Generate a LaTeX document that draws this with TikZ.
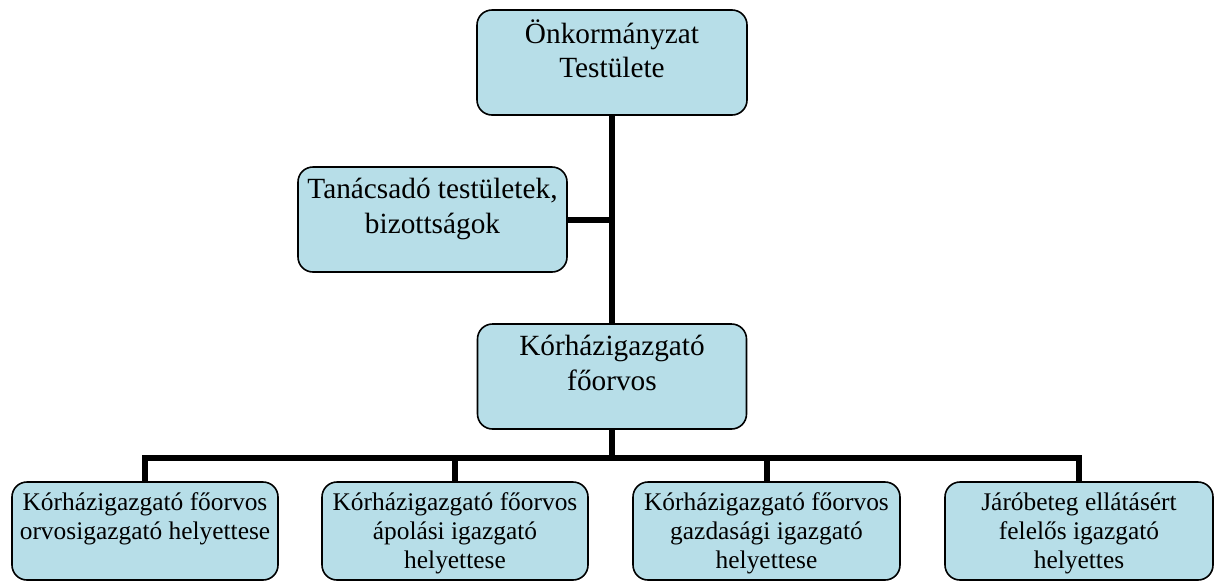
\documentclass[tikz,border=0pt]{standalone}
\usepackage{fontspec}
\setmainfont{Liberation Serif}
\usetikzlibrary{backgrounds}
\definecolor{boxfill}{RGB}{183,222,232}
% width, height, first baseline offset, font size, baselineskip, text
\newcommand\bxtext[6]{\parbox[c][#2][t]{#1}{\centering\fontsize{#4}{#5}\selectfont\rule{0pt}{#3}#6}}
\newcommand\bigbox[2]{\bxtext{#1}{105pt}{31pt}{29.3pt}{35pt}{#2}}
\newcommand\smallbox[2]{\bxtext{#1}{98pt}{28.5pt}{25.4pt}{29pt}{#2}}
\begin{document}
\begin{tikzpicture}[x=1pt,y=-1pt,
  orgbox/.style={draw=black, line width=1.6pt, fill=boxfill, rounded corners=15pt, inner sep=0pt},
  conn/.style={draw=black, line width=6pt, line join=miter}]
\useasboundingbox (0,0) rectangle (1217,582);
\node[orgbox] (top) at (612,62.5) {\bxtext{270pt}{105pt}{33pt}{29.3pt}{34pt}{Önkormányzat\\Testülete}};
\node[orgbox] (tan) at (432.5,219.5) {\bigbox{269pt}{Tanácsadó testületek,\\bizottságok}};
\node[orgbox] (korh) at (612,376.5) {\bigbox{269pt}{Kórházigazgató\\főorvos}};
\node[orgbox] (b1) at (145,531) {\smallbox{266pt}{Kórházigazgató főorvos\\orvosigazgató helyettese}};
\node[orgbox] (b2) at (455,531) {\smallbox{266pt}{Kórházigazgató főorvos\\ápolási igazgató\\helyettese}};
\node[orgbox] (b3) at (766.5,531) {\smallbox{267pt}{Kórházigazgató főorvos\\gazdasági igazgató\\helyettese}};
\node[orgbox] (b4) at (1079,531) {\smallbox{268pt}{Járóbeteg ellátásért\\felelős igazgató\\helyettes}};
\coordinate (bus) at (612,458);
\begin{scope}[on background layer]
\draw[conn] (top.south) -- (korh.north);
\draw[conn] (tan.east) -- (tan.east -| top.south);
\draw[conn] (korh.south) -- (bus);
\draw[conn] (b1.north) |- (b4.north |- bus) -- (b4.north);
\draw[conn] (b2.north) -- (b2.north |- bus);
\draw[conn] (b3.north) -- (b3.north |- bus);
\end{scope}
\end{tikzpicture}
\end{document}
